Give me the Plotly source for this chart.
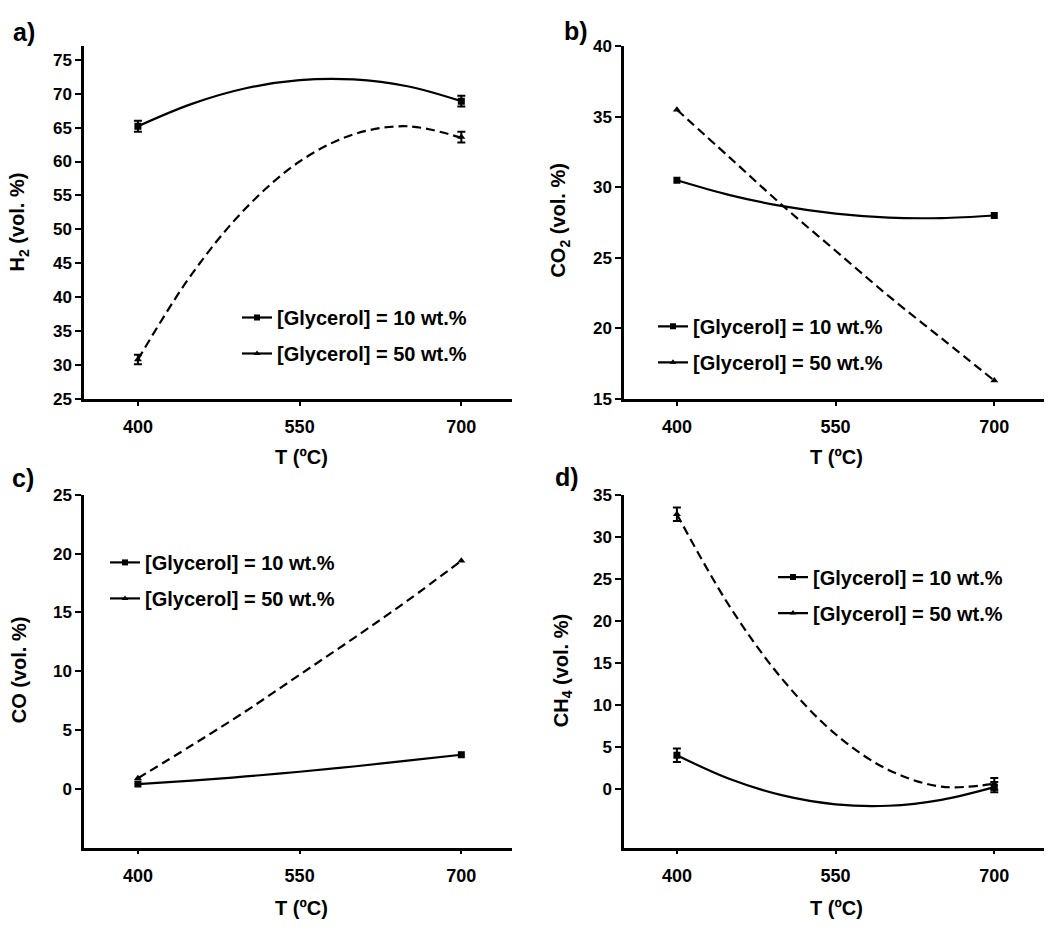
import plotly.graph_objects as go

W, H = 1052, 934

# ---- data ----
T_points = [400, 700]
T_fit = [400, 450, 500, 550, 600, 650, 700]
labels = ["[Glycerol] = 10 wt.%", "[Glycerol] = 50 wt.%"]

# a) H2
h2_10 = [65.2, 68.9]; h2_10_err = [0.8, 0.8]
h2_50 = [30.8, 63.6]; h2_50_err = [0.7, 0.8]
h2_10_fit = [65.2, 68.5, 70.8, 72.0, 72.1, 71.1, 68.9]
h2_50_fit = [30.8, 43.4, 53.1, 60.0, 64.0, 65.2, 63.5]

# b) CO2
co2_10 = [30.5, 28.0]
co2_50 = [35.5, 16.3]
co2_10_fit = [30.5, 29.45, 28.66, 28.13, 27.85, 27.82, 28.0]
co2_50_fit = [35.5, 32.1, 28.7, 25.5, 22.3, 19.3, 16.3]

# c) CO
co_10 = [0.4, 2.9]
co_50 = [0.9, 19.4]
co_10_fit = [0.4, 0.70, 1.05, 1.45, 1.90, 2.39, 2.9]
co_50_fit = [0.9, 3.7, 6.6, 9.7, 12.8, 16.0, 19.4]

# d) CH4
ch4_10 = [4.0, 0.2]; ch4_10_err = [0.8, 0.6]
ch4_50 = [32.7, 0.6]; ch4_50_err = [0.8, 0.7]
ch4_10_fit = [4.0, 1.16, -0.79, -1.85, -2.02, -1.31, 0.2]
ch4_50_fit = [32.7, 21.7, 13.0, 6.5, 2.25, 0.26, 0.6]

x_ticks = [400, 550, 700]

FONT = "Liberation Sans, Arial, sans-serif"

def px_x(p):
    return p / W

def px_y(p):
    return 1 - p / H

panels = [
    dict(name="a)", ax="", ytitle="H<sub>2</sub> (vol. %)", yrange=[25, 77], yticks=[25, 30, 35, 40, 45, 50, 55, 60, 65, 70, 75],
         xd=(84, 512), yd=(38, 398),
         s10=(h2_10, h2_10_err, h2_10_fit), s50=(h2_50, h2_50_err, h2_50_fit),
         lab=(24, 23), yt=(19, 218), xt=(301, 457), leg=(237, 295)),
    dict(name="b)", ax="2", ytitle="CO<sub>2</sub> (vol. %)", yrange=[15, 40], yticks=[15, 20, 25, 30, 35, 40],
         xd=(624, 1044), yd=(38, 398),
         s10=(co2_10, None, co2_10_fit), s50=(co2_50, None, co2_50_fit),
         lab=(576, 22), yt=(560, 216), xt=(836, 457), leg=(653, 304)),
    dict(name="c)", ax="3", ytitle="CO (vol. %)", yrange=[-5, 25], yticks=[0, 5, 10, 15, 20, 25],
         xd=(84, 512), yd=(496, 856),
         s10=(co_10, None, co_10_fit), s50=(co_50, None, co_50_fit),
         lab=(23, 479), yt=(19, 675), xt=(301, 918), leg=(105, 545)),
    dict(name="d)", ax="4", ytitle="CH<sub>4</sub> (vol. %)", yrange=[-7, 35], yticks=[0, 5, 10, 15, 20, 25, 30, 35],
         xd=(624, 1044), yd=(496, 856),
         s10=(ch4_10, ch4_10_err, ch4_10_fit), s50=(ch4_50, ch4_50_err, ch4_50_fit),
         lab=(567, 478), yt=(562, 676), xt=(836, 918), leg=(773, 560)),
]

fig = go.Figure()
layout = dict(
    width=W, height=H, margin=dict(l=0, r=0, t=0, b=0),
    paper_bgcolor="white", plot_bgcolor="white",
    font=dict(family=FONT, color="black", weight="bold"),
    showlegend=True, annotations=[],
)

for i, p in enumerate(panels):
    ax = p["ax"]
    xa, ya = "x" + ax, "y" + ax
    legname = "legend" + ax
    for key, symbol, dash, lab in (("s10", "square", "solid", labels[0]), ("s50", "triangle-up", "9px,5px", labels[1])):
        yv, err, fit = p[key]
        # fitted curve
        fig.add_trace(go.Scatter(x=T_fit, y=fit, mode="lines", xaxis=xa, yaxis=ya,
                                 line=dict(color="black", width=2.2, dash=dash, shape="spline"),
                                 showlegend=False, hoverinfo="skip"))
        # data points
        ey = dict(type="data", array=err, visible=True, color="black", thickness=2, width=4) if err else None
        fig.add_trace(go.Scatter(x=T_points, y=yv, mode="markers", xaxis=xa, yaxis=ya,
                                 marker=dict(symbol=symbol, size=7, color="black"),
                                 error_y=ey, showlegend=False))
        # legend entry
        fig.add_trace(go.Scatter(x=[None], y=[None], mode="lines+markers", xaxis=xa, yaxis=ya,
                                 name=lab, legend=legname, legendgroup=f"{i}{key}",
                                 line=dict(color="black", width=2.2, dash="solid"),
                                 marker=dict(symbol=symbol, size=6, color="black")))

    axis_common = dict(showline=True, linecolor="black", linewidth=2.5, ticks="outside",
                       tickcolor="black", tickwidth=2, showgrid=False, zeroline=False)
    layout["xaxis" + ax] = dict(axis_common, domain=[px_x(p["xd"][0]), px_x(p["xd"][1])],
                                anchor=ya, range=[350, 747], tickvals=x_ticks, ticklen=4,
                                ticklabelstandoff=6,
                                tickfont=dict(family=FONT, size=18, color="black", weight="bold"))
    layout["yaxis" + ax] = dict(axis_common, domain=[px_y(p["yd"][1]), px_y(p["yd"][0])],
                                anchor=xa, range=p["yrange"], tickvals=p["yticks"], ticklen=6,
                                tickfont=dict(family=FONT, size=17, color="black", weight="bold"))
    layout[legname] = dict(x=px_x(p["leg"][0]), y=px_y(p["leg"][1]), xanchor="left", yanchor="top",
                           bgcolor="rgba(0,0,0,0)", borderwidth=0, traceorder="grouped",
                           tracegroupgap=7,
                           font=dict(family=FONT, size=20, color="black", weight="bold"))
    # panel label, axis titles
    layout["annotations"] += [
        dict(text=p["name"], x=px_x(p["lab"][0]), y=px_y(p["lab"][1]), xref="paper", yref="paper",
             showarrow=False, xanchor="center", yanchor="middle",
             font=dict(family=FONT, size=25, color="black", weight="bold")),
        dict(text=p["ytitle"], x=px_x(p["yt"][0]), y=px_y(p["yt"][1]), xref="paper", yref="paper",
             showarrow=False, xanchor="center", yanchor="middle", textangle=-90,
             font=dict(family=FONT, size=20, color="black", weight="bold")),
        dict(text="T (ºC)", x=px_x(p["xt"][0]), y=px_y(p["xt"][1]), xref="paper", yref="paper",
             showarrow=False, xanchor="center", yanchor="middle",
             font=dict(family=FONT, size=20, color="black", weight="bold")),
    ]

fig.update_layout(**layout)
fig.write_html("out.html")
